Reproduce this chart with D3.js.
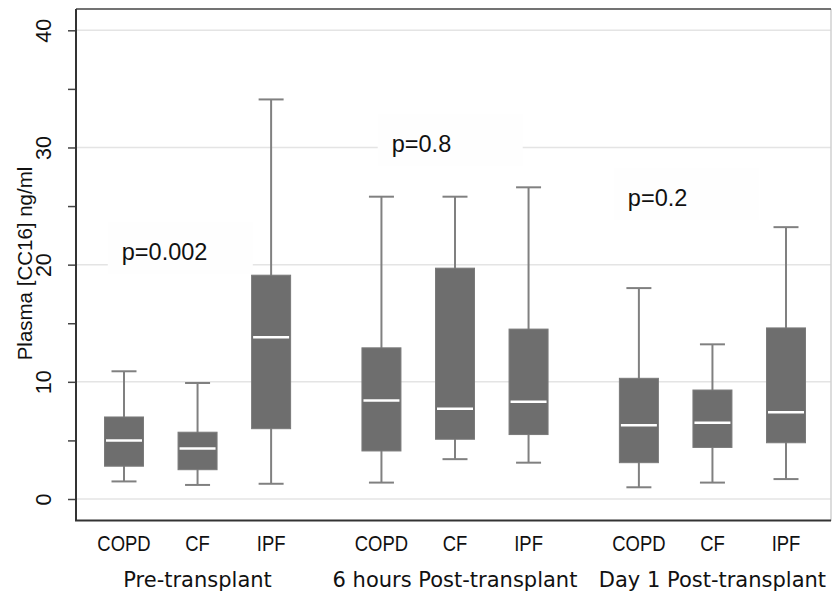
<!DOCTYPE html>
<html>
<head>
<meta charset="utf-8">
<script src="https://cdn.jsdelivr.net/npm/d3@7"></script>
<style>
  body { margin: 0; background: #fff; }
  svg { display: block; }
</style>
</head>
<body>
<div id="chart"></div>
<script>
// values, one per box, in group order
const groups = ['Pre-transplant', '6 hours Post-transplant', 'Day 1 Post-transplant'];
const diseases = ['COPD', 'CF', 'IPF'];
const whiskerLow  = [1.5, 1.2, 1.3,   1.4, 3.4, 3.1,   1.0, 1.4, 1.7];
const q1          = [2.8, 2.5, 6.0,   4.1, 5.1, 5.5,   3.1, 4.4, 4.8];
const median      = [5.0, 4.3, 13.8,  8.4, 7.7, 8.3,   6.3, 6.5, 7.4];
const q3          = [7.0, 5.7, 19.1,  12.9, 19.7, 14.5, 10.3, 9.3, 14.6];
const whiskerHigh = [10.9, 9.9, 34.1, 25.8, 25.8, 26.6, 18.0, 13.2, 23.2];
const pLabels = ['p=0.002', 'p=0.8', 'p=0.2'];
const yTicks = [0, 10, 20, 30, 40];
const yMinorTicks = [5, 15, 25, 35];

const width = 832, height = 595;
const frame = { left: 76, right: 831, top: 9, bottom: 521 };

let svg = d3.select('#chart').append('svg')
    .attr('width', width)
    .attr('height', height);

let yScaler = d3.scaleLinear().domain([0, 40]).range([499, 30.3]);
// boxes sit on slots 0,1,2 / 3.5,4.5,5.5 / 7,8,9
let xScaler = d3.scaleLinear().domain([0, 9]).range([124, 786]);
let slot = i => Math.floor(i / 3) * 3.5 + (i % 3);

let boxes = median.map((m, i) => ({
    group: groups[Math.floor(i / 3)],
    disease: diseases[i % 3],
    lo: whiskerLow[i], q1: q1[i], med: m, q3: q3[i], hi: whiskerHigh[i],
    x: xScaler(slot(i))
}));

// gridlines
svg.append('g').attr('class', 'grid')
    .selectAll('line')
    .data(yTicks)
    .enter()
    .append('line')
    .attr('x1', frame.left)
    .attr('x2', frame.right)
    .attr('y1', d => yScaler(d))
    .attr('y2', d => yScaler(d))
    .attr('stroke', '#e4e4e4')
    .attr('stroke-width', 1.5);

// right and top frame
svg.append('line')
    .attr('x1', frame.right).attr('x2', frame.right)
    .attr('y1', frame.top).attr('y2', frame.bottom)
    .attr('stroke', '#d0d0d0').attr('stroke-width', 1.5);
svg.append('line')
    .attr('x1', frame.left).attr('x2', frame.right)
    .attr('y1', frame.top).attr('y2', frame.top)
    .attr('stroke', '#444').attr('stroke-width', 1.5);

// p-value labels on white patches
let pPos = [{ s: -0.03, v: 20.4 }, { s: 3.64, v: 29.6 }, { s: 6.85, v: 25.0 }];
let pGroup = svg.append('g').attr('class', 'p-values');
pLabels.forEach((label, i) => {
    let tx = xScaler(pPos[i].s), ty = yScaler(pPos[i].v);
    pGroup.append('rect')
        .attr('x', tx - 14).attr('y', ty - 38)
        .attr('width', 145).attr('height', 52)
        .attr('fill', '#fefefe');
    pGroup.append('text')
        .attr('x', tx).attr('y', ty)
        .attr('font-family', 'Liberation Sans, Arial, sans-serif')
        .attr('font-size', 23.5)
        .attr('fill', '#111')
        .text(label);
});

// whiskers
let whisk = svg.append('g').attr('class', 'whiskers')
    .attr('stroke', '#808080').attr('stroke-width', 2);
whisk.selectAll('line.stem')
    .data(boxes)
    .enter()
    .append('line')
    .attr('class', 'stem')
    .attr('x1', d => d.x).attr('x2', d => d.x)
    .attr('y1', d => yScaler(d.lo)).attr('y2', d => yScaler(d.hi));
whisk.selectAll('line.cap-hi')
    .data(boxes)
    .enter()
    .append('line')
    .attr('class', 'cap-hi')
    .attr('x1', d => d.x - 12.5).attr('x2', d => d.x + 12.5)
    .attr('y1', d => yScaler(d.hi)).attr('y2', d => yScaler(d.hi));
whisk.selectAll('line.cap-lo')
    .data(boxes)
    .enter()
    .append('line')
    .attr('class', 'cap-lo')
    .attr('x1', d => d.x - 12.5).attr('x2', d => d.x + 12.5)
    .attr('y1', d => yScaler(d.lo)).attr('y2', d => yScaler(d.lo));

// boxes
let boxW = 39;
svg.append('g').attr('class', 'boxes')
    .selectAll('rect')
    .data(boxes)
    .enter()
    .append('rect')
    .attr('x', d => d.x - boxW / 2)
    .attr('y', d => yScaler(d.q3))
    .attr('width', boxW)
    .attr('height', d => yScaler(d.q1) - yScaler(d.q3))
    .attr('fill', '#6e6e6e')
    .attr('stroke', '#7a7a7a')
    .attr('stroke-width', 1);

svg.append('g').attr('class', 'medians')
    .selectAll('line')
    .data(boxes)
    .enter()
    .append('line')
    .attr('x1', d => d.x - boxW / 2 + 1.5)
    .attr('x2', d => d.x + boxW / 2 - 1.5)
    .attr('y1', d => yScaler(d.med))
    .attr('y2', d => yScaler(d.med))
    .attr('stroke', '#fff')
    .attr('stroke-width', 2.5);

// y axis ticks
let yAxis = d3.axisLeft(yScaler)
    .tickValues(yTicks.concat(yMinorTicks))
    .tickSize(8)
    .tickFormat(d => yTicks.includes(d) ? d : '');
let yAxisG = svg.append('g')
    .attr('transform', `translate(${frame.left},0)`)
    .call(yAxis);
yAxisG.select('.domain').remove();
yAxisG.selectAll('.tick line').attr('stroke', '#444').attr('stroke-width', 1.5);
yAxisG.selectAll('.tick text')
    .attr('font-family', 'Liberation Sans, Arial, sans-serif')
    .attr('font-size', 21.5)
    .attr('fill', '#111')
    .attr('text-anchor', 'middle')
    .attr('dy', null)
    .attr('x', null)
    .attr('transform', 'translate(-32,0) rotate(-90)')
    .attr('dominant-baseline', 'central');

// left and bottom axis lines
svg.append('line')
    .attr('x1', frame.left).attr('x2', frame.left)
    .attr('y1', frame.top).attr('y2', frame.bottom)
    .attr('stroke', '#333').attr('stroke-width', 2);
svg.append('line')
    .attr('x1', frame.left - 1).attr('x2', frame.right)
    .attr('y1', frame.bottom - 0.5).attr('y2', frame.bottom - 0.5)
    .attr('stroke', '#333').attr('stroke-width', 2);

// y title
svg.append('text')
    .attr('transform', 'translate(32,263.5) rotate(-90)')
    .attr('text-anchor', 'middle')
    .attr('font-family', 'Liberation Sans, Arial, sans-serif')
    .attr('font-size', 20.5)
    .attr('fill', '#111')
    .text('Plasma [CC16] ng/ml');

// category labels
svg.append('g').attr('class', 'x-labels')
    .selectAll('text')
    .data(boxes)
    .enter()
    .append('text')
    .attr('transform', d => `translate(${d.x},550.5) scale(0.84,1)`)
    .attr('text-anchor', 'middle')
    .attr('font-family', 'Liberation Sans, Arial, sans-serif')
    .attr('font-size', 22)
    .attr('fill', '#111')
    .text(d => d.disease);

// group labels under the middle box of each group
svg.append('g').attr('class', 'group-labels')
    .selectAll('text')
    .data(groups)
    .enter()
    .append('text')
    .attr('x', (d, g) => xScaler(g * 3.5 + 1))
    .attr('y', 586.5)
    .attr('text-anchor', 'middle')
    .attr('font-family', 'DejaVu Sans, Verdana, sans-serif')
    .attr('font-size', 21)
    .attr('fill', '#111')
    .text(d => d);
</script>
</body>
</html>
